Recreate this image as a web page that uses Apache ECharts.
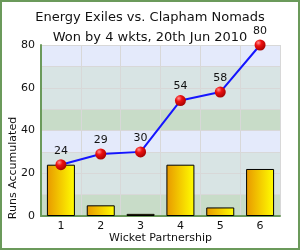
<!DOCTYPE html>
<html>
<head>
<meta charset="utf-8">
<script src="https://cdn.jsdelivr.net/npm/echarts@6/dist/echarts.min.js"></script>
<style>
  html, body { margin: 0; padding: 0; background: #fff; }
  #chart { width: 300px; height: 250px; box-sizing: border-box; border: 2px solid #6b9a5b; }
</style>
</head>
<body>
<div id="chart"></div>
<script>
const partnerships = ['1', '2', '3', '4', '5', '6'];
const partnershipRuns = [24, 5, 1, 24, 4, 22];
const runsAccumulated = [24, 29, 30, 54, 58, 80];

const chart = echarts.init(document.getElementById('chart'), null, { renderer: 'canvas' });
const font = 'DejaVu Sans, Verdana, sans-serif';

const option = {
  animation: false,
  backgroundColor: '#fff',
  title: {
    text: 'Energy Exiles vs. Clapham Nomads\nWon by 4 wkts, 20th Jun 2010',
    left: 'center',
    top: 1,
    textStyle: {
      fontFamily: font,
      fontSize: 13,
      fontWeight: 'normal',
      color: '#111',
      lineHeight: 20,
    },
  },
  grid: {
    left: 39,
    right: 18,
    top: 43,
    bottom: 32,
    outerBoundsMode: 'none',
    containLabel: false,
  },
  xAxis: {
    type: 'category',
    data: partnerships,
    name: 'Wicket Partnership',
    nameLocation: 'middle',
    nameGap: 17,
    nameMoveOverlap: false,
    nameTextStyle: { fontFamily: font, fontSize: 11, color: '#111' },
    axisLine: { lineStyle: { color: '#6b9a5b', width: 2 } },
    axisTick: { show: false },
    axisLabel: { fontFamily: font, fontSize: 11, color: '#111', margin: 5 },
    splitLine: { show: true, lineStyle: { color: '#d8d8d8', width: 1 } },
  },
  yAxis: {
    type: 'value',
    min: 0,
    max: 80,
    interval: 10,
    axisLine: { show: true, lineStyle: { color: '#6b9a5b', width: 2 } },
    axisTick: { show: false },
    axisLabel: {
      fontFamily: font,
      fontSize: 11,
      color: '#111',
      margin: 6,
      formatter: v => (v % 20 === 0 ? String(v) : ''),
    },
    splitLine: { show: true, lineStyle: { color: '#d8d8d8', width: 1 } },
    splitArea: {
      show: true,
      areaStyle: { color: ['#c8dcc8', '#d8e4e4', '#d8e4e4', '#e4eafb'] },
    },
  },
  graphic: [
    {
      type: 'text',
      x: 6,
      y: 166,
      rotation: Math.PI / 2,
      style: {
        text: 'Runs Accumulated',
        fontFamily: font,
        fontSize: 11,
        fill: '#111',
        align: 'center',
        verticalAlign: 'top',
      },
    },
  ],
  series: [
    {
      type: 'bar',
      data: partnershipRuns,
      barWidth: 28,
      z: 2,
      itemStyle: {
        borderColor: '#000',
        borderWidth: 1,
        color: new echarts.graphic.LinearGradient(0, 0, 1, 0, [
          { offset: 0, color: '#e89800' },
          { offset: 1, color: '#ffff00' },
        ]),
      },
    },
    {
      type: 'line',
      data: runsAccumulated,
      z: 5,
      symbol: 'circle',
      symbolSize: 11,
      lineStyle: { color: '#1515ff', width: 2 },
      itemStyle: {
        borderWidth: 0,
        color: new echarts.graphic.RadialGradient(0.35, 0.3, 0.8, [
          { offset: 0, color: '#ff9090' },
          { offset: 0.35, color: '#ee1010' },
          { offset: 1, color: '#990000' },
        ]),
      },
      label: {
        show: true,
        position: 'top',
        distance: 3,
        fontFamily: font,
        fontSize: 11,
        color: '#111',
      },
    },
  ],
};

chart.setOption(option);
window.addEventListener('resize', () => chart.resize());
</script>
</body>
</html>
